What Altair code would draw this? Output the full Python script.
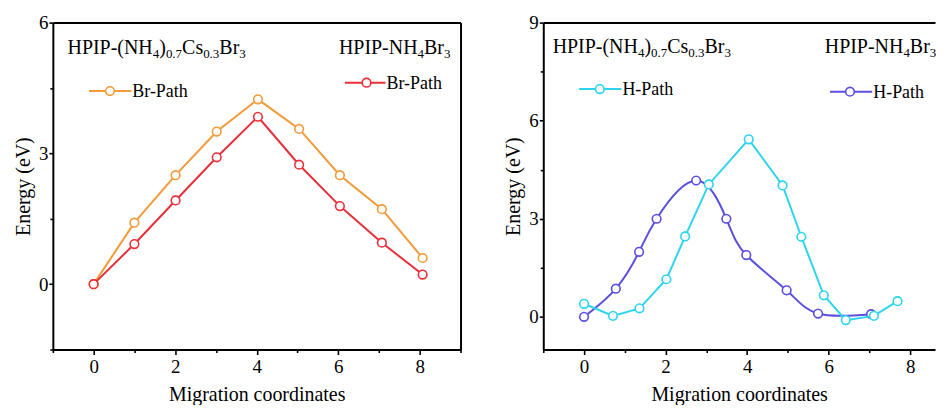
import altair as alt
import pandas as pd

# ---------------- data ----------------
br_x = [0, 1.0, 2.01, 3.02, 4.03, 5.04, 6.04, 7.07, 8.07]
br_e_mixed = [0, 1.41, 2.50, 3.50, 4.24, 3.56, 2.50, 1.72, 0.60]
br_e_nh4 = [0, 0.92, 1.92, 2.91, 3.84, 2.74, 1.79, 0.95, 0.22]

h_x_mixed = [0, 0.71, 1.36, 2.02, 2.48, 3.06, 4.04, 4.87, 5.33, 5.88, 6.42, 7.11, 7.69]
h_e_mixed = [0.40, 0.03, 0.26, 1.15, 2.46, 4.05, 5.43, 4.02, 2.45, 0.66, -0.10, 0.03, 0.48]
h_x_nh4 = [0, 0.78, 1.35, 1.78, 2.75, 3.49, 3.98, 4.97, 5.74, 7.04]
h_e_nh4 = [0, 0.86, 1.99, 3.00, 4.17, 3.00, 1.89, 0.81, 0.10, 0.08]

x_ticks = [-1, 0, 1, 2, 3, 4, 5, 6, 7, 8, 9]
y_ticks_left = [-1.5, 0, 1.5, 3, 4.5, 6]
y_ticks_right = [0, 1.5, 3, 4.5, 6, 7.5, 9]

label_mixed = [("HPIP-(NH", False), ("4", True), (")", False), ("0.7", True),
               ("Cs", False), ("0.3", True), ("Br", False), ("3", True)]
label_nh4 = [("HPIP-NH", False), ("4", True), ("Br", False), ("3", True)]

ORANGE = "#F39A3A"
RED = "#E8303A"
CYAN = "#2DD4EE"
PURPLE = "#5A4FDE"
FONT = "Liberation Serif"

W_LEFT, W_RIGHT, H = 409, 393, 328
PX_PER_UNIT = W_LEFT / 10.0

# Times / Liberation Serif advance widths (per 1000 em)
ADV = {"H": 722, "P": 556, "I": 333, "-": 333, "(": 333, ")": 333, "N": 722,
       "C": 667, "s": 389, "B": 667, "r": 333, ".": 250}
for d in "0123456789":
    ADV[d] = 500

one = pd.DataFrame({"k": [0]})


def rich_text(segments, x0, y0, size=20, sub_size=13, sub_dy=4):
    layers = []
    x = x0
    for txt, sub in segments:
        fs = sub_size if sub else size
        layers.append(
            alt.Chart(one).mark_text(text=txt, align="left", baseline="alphabetic",
                                     font=FONT, fontSize=fs, color="black")
            .encode(x=alt.value(x), y=alt.value(y0 + (sub_dy if sub else 0)))
        )
        x += sum(ADV[c] for c in txt) / 1000 * fs
    return layers


def legend_item(x1, x2, cx, y, color, text):
    line = alt.Chart(one).mark_rule(color=color, strokeWidth=2).encode(
        x=alt.value(x1), x2=alt.value(x2), y=alt.value(y))
    pt = alt.Chart(one).mark_point(shape="circle", filled=False, fill="white", fillOpacity=1,
                                   color=color, size=75, strokeWidth=1.6, opacity=1).encode(
        x=alt.value(cx), y=alt.value(y))
    tx = alt.Chart(one).mark_text(text=text, align="left", baseline="alphabetic", font=FONT,
                                  fontSize=18, color="black").encode(
        x=alt.value(x2 + 1), y=alt.value(y + 6))
    return [line, pt, tx]


def series(xs, es, color, xsc, ysc, interp="linear"):
    df = pd.DataFrame({"x": xs, "e": es})
    base = alt.Chart(df)
    enc = dict(x=alt.X("x:Q", scale=xsc, axis=None), y=alt.Y("e:Q", scale=ysc, axis=None))
    ln = base.mark_line(color=color, strokeWidth=2, interpolate=interp).encode(**enc)
    pt = base.mark_point(shape="circle", filled=False, fill="white", fillOpacity=1,
                         color=color, size=75, strokeWidth=1.6, opacity=1).encode(**enc)
    return [ln, pt]


def frame(xsc, ysc, xmin, ymin, yvals, ymod, right_border=True):
    dfa = pd.DataFrame({"x": [xmin], "e": [ymin]})
    base = alt.Chart(dfa).mark_point(opacity=0)
    main = base.encode(
        x=alt.X("x:Q", scale=xsc,
                axis=alt.Axis(values=x_ticks, title="Migration coordinates",
                              labelExpr="datum.value % 2 === 0 ? datum.label : ''",
                              tickSize={"condition": {"test": "datum.value % 2 === 0", "value": 5}, "value": 3},
                              labelPadding=3, titlePadding=8)),
        y=alt.Y("e:Q", scale=ysc,
                axis=alt.Axis(values=yvals, title="Energy (eV)",
                              labelExpr=f"datum.value % {ymod} === 0 ? datum.label : ''",
                              tickSize={"condition": {"test": f"datum.value % {ymod} === 0", "value": 4}, "value": 3},
                              labelPadding=1, titlePadding=5)),
    )
    top = base.encode(
        x=alt.X("x:Q", scale=xsc, axis=alt.Axis(orient="top", ticks=False, labels=False, title="")),
        y=alt.Y("e:Q", scale=ysc, axis=None),
    )
    layers = [main, top]
    if right_border:
        layers.append(base.encode(
            x=alt.X("x:Q", scale=xsc, axis=None),
            y=alt.Y("e:Q", scale=ysc, axis=alt.Axis(orient="right", ticks=False, labels=False, title="")),
        ))
    return layers


# ---------------- left panel ----------------
xs_l = alt.Scale(domain=[-1, 9], nice=False, zero=False)
ys_l = alt.Scale(domain=[-1.5, 6], nice=False, zero=False)
left_layers = frame(xs_l, ys_l, -1, -1.5, y_ticks_left, 3, True)
left_layers += series(br_x, br_e_mixed, ORANGE, xs_l, ys_l)
left_layers += series(br_x, br_e_nh4, RED, xs_l, ys_l)
left_layers += rich_text(label_mixed, 14.7, 31.3)
left_layers += rich_text(label_nh4, 287, 31.3)
left_layers += legend_item(36.3, 78.7, 57.3, 68.7, ORANGE, "Br-Path")
left_layers += legend_item(293, 333.7, 314.7, 60.3, RED, "Br-Path")
left = alt.layer(*left_layers).resolve_axis(x="independent", y="independent").properties(
    width=W_LEFT, height=H)

# ---------------- right panel (cut at the right edge) ----------------
xs_r = alt.Scale(domain=[-1, -1 + W_RIGHT / PX_PER_UNIT], nice=False, zero=False)
ys_r = alt.Scale(domain=[-1, 9], nice=False, zero=False)
right_layers = frame(xs_r, ys_r, -1, -1, y_ticks_right, 3, False)
right_layers += series(h_x_nh4, h_e_nh4, PURPLE, xs_r, ys_r, "natural")
right_layers += series(h_x_mixed, h_e_mixed, CYAN, xs_r, ys_r)
right_layers += rich_text(label_mixed, 9.4, 31)
right_layers += rich_text(label_nh4, 282.4, 31)
right_layers += legend_item(36, 78.4, 56.7, 66.7, CYAN, "H-Path")
right_layers += legend_item(287.7, 330, 307.7, 69.3, PURPLE, "H-Path")
right = alt.layer(*right_layers).resolve_axis(x="independent", y="independent").properties(
    width=W_RIGHT, height=H)

chart = alt.hconcat(
    left, right, spacing=42, background="white",
    padding={"left": 5, "top": 5, "right": 0, "bottom": 0},
).configure_view(
    strokeWidth=0
).configure_axis(
    grid=False, domainColor="black", domainWidth=2, tickColor="black", tickWidth=1.6,
    labelFont=FONT, labelFontSize=19, labelColor="black",
    titleFont=FONT, titleFontSize=20, titleFontWeight="normal", titleColor="black",
)

chart.save("out.html", embed_options={"renderer": "svg", "actions": False})
